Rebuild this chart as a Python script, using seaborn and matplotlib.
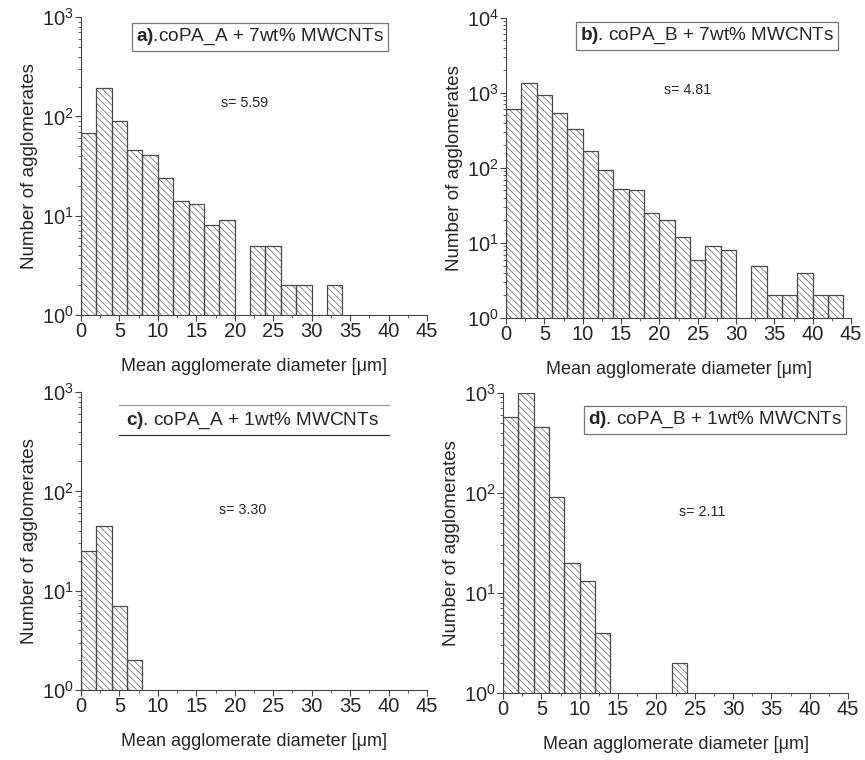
import matplotlib
matplotlib.use("Agg")
import matplotlib.pyplot as plt
from matplotlib.ticker import MultipleLocator, LogLocator, NullFormatter
import numpy as np
import pandas as pd
import seaborn as sns

# bin width 2 um, bins start at 0
bin_width = 2
counts_a = [68, 195, 90, 46, 41, 24, 14, 13, 8, 9, 0, 5, 5, 2, 2, 0, 2]
counts_b = [615, 1350, 950, 540, 325, 170, 95, 53, 50, 25, 20, 12, 6, 9, 8, 0,
            5, 2, 2, 4, 2, 2]
counts_c = [25, 45, 7, 2]
counts_d = [570, 1000, 455, 91, 20, 13, 4, 0, 0, 0, 0, 2]

titles = ["a).coPA_A + 7wt% MWCNTs", "b). coPA_B + 7wt% MWCNTs",
          "c). coPA_A + 1wt% MWCNTs", "d). coPA_B + 1wt% MWCNTs"]
s_labels = ["s= 5.59", "s= 4.81", "s= 3.30", "s= 2.11"]
y_tops = [1e3, 1e4, 1e3, 1e3]

sns.set_style("ticks")
plt.rcParams['font.family'] = ['Liberation Sans', 'DejaVu Sans']
plt.rcParams['mathtext.fontset'] = 'custom'
plt.rcParams['mathtext.rm'] = 'Liberation Sans'
plt.rcParams['mathtext.bf'] = 'Liberation Sans:bold'
plt.rcParams['hatch.linewidth'] = 0.6

fig = plt.figure(figsize=(8.65, 7.6), dpi=100)
boxes = [[0.0936, 0.5855, 0.400, 0.392],
         [0.5850, 0.5816, 0.399, 0.395],
         [0.0936, 0.0921, 0.400, 0.392],
         [0.5815, 0.0882, 0.399, 0.395]]
title_pos = [(0.517, 0.933), (0.583, 0.94), (0.497, 0.903), (0.615, 0.91)]
s_pos = [(0.474, 0.711), (0.525, 0.76), (0.468, 0.604), (0.577, 0.603)]

all_counts = [counts_a, counts_b, counts_c, counts_d]
for i, counts in enumerate(all_counts):
    ax = fig.add_axes(boxes[i])
    n = len(counts)
    df = pd.DataFrame({'diameter': np.arange(n) * bin_width + bin_width / 2,
                       'count': counts})
    # hatched fill (light grey lines), then darker outlines on top
    sns.histplot(data=df, x='diameter', weights='count', binwidth=bin_width,
                 binrange=(0, n * bin_width), ax=ax,
                 color='white', edgecolor='#7a7a7a', linewidth=0, alpha=1)
    for p in ax.patches:
        p.set_hatch('\\\\\\\\\\')
    sns.histplot(data=df, x='diameter', weights='count', binwidth=bin_width,
                 binrange=(0, n * bin_width), ax=ax, fill=False,
                 color='#4a4a4a', linewidth=0.9)
    ax.set_yscale('log')
    ax.set_xlim(0, 45)
    ax.set_ylim(1, y_tops[i])
    ax.xaxis.set_major_locator(MultipleLocator(5))
    ax.xaxis.set_minor_locator(MultipleLocator(2.5))
    ax.yaxis.set_major_locator(LogLocator(base=10))
    ax.yaxis.set_minor_locator(LogLocator(base=10, subs=np.arange(2, 10)))
    ax.yaxis.set_minor_formatter(NullFormatter())
    ax.tick_params(which='major', length=4, width=0.8, labelsize=14.5, pad=1,
                   color='#444444')
    ax.tick_params(which='minor', length=2, width=0.6, color='#444444')
    for side in ['top', 'right']:
        ax.spines[side].set_visible(False)
    for side in ['left', 'bottom']:
        ax.spines[side].set_color('#444444')
        ax.spines[side].set_linewidth(0.8)
    ax.set_xlabel("Mean agglomerate diameter [\u03bcm]", fontsize=13, labelpad=12)
    ax.set_ylabel("Number of agglomerates", fontsize=13.5, labelpad=3)

    head, rest = titles[i].split(")", 1)
    label = r"$\mathbf{" + head + ")}$" + rest
    tx, ty = title_pos[i]
    if i == 2:
        ax.text(tx, ty, label, transform=ax.transAxes, ha='center', va='center',
                fontsize=13.7)
        ax.plot([0.11, 0.89], [0.958, 0.958], transform=ax.transAxes,
                color='#999999', lw=0.9, clip_on=False)
        ax.plot([0.11, 0.89], [0.857, 0.857], transform=ax.transAxes,
                color='#333333', lw=0.9, clip_on=False)
    else:
        ax.text(tx, ty, label, transform=ax.transAxes, ha='center', va='center',
                fontsize=13.7,
                bbox=dict(boxstyle='square,pad=0.2', fc='white', ec='#777777', lw=0.9))
    sx, sy = s_pos[i]
    ax.text(sx, sy, s_labels[i], transform=ax.transAxes, ha='center', va='center',
            fontsize=10.3)

fig.savefig("out.png", dpi=100)
